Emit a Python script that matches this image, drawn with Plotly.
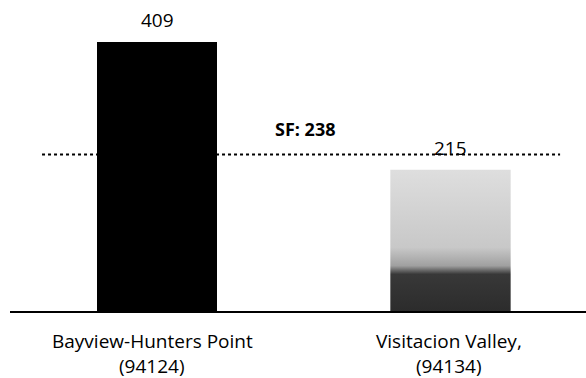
import plotly.graph_objects as go

# Neighbourhood values and city-wide reference
neighbourhoods = ["Bayview-Hunters Point", "Visitacion Valley,"]
zip_codes = ["(94124)", "(94134)"]
values = [409, 215]
sf_value = 238
sf_label = "SF: 238"

positions = [0, 1]
bar_width = 0.41
font_family = "Open Sans, Noto Sans, sans-serif"

fig = go.Figure()

# Solid black bar for the first neighbourhood
fig.add_trace(go.Bar(
    x=[positions[0]], y=[values[0]], width=bar_width,
    marker=dict(color="black", line=dict(width=0)),
    hoverinfo="skip", showlegend=False,
))

# Shaded bar for the second neighbourhood (dark at the base, light above)
x0 = positions[1] - bar_width / 2
x1 = positions[1] + bar_width / 2
fig.add_trace(go.Scatter(
    x=[x0, x1, x1, x0, x0],
    y=[0, 0, values[1], values[1], 0],
    mode="lines", line=dict(width=0), fill="toself",
    fillgradient=dict(
        type="vertical", start=0, stop=values[1],
        colorscale=[[0, "#2c2c2c"], [0.26, "#383838"], [0.32, "#a0a0a0"],
                    [0.45, "#c8c8c8"], [1, "#dedede"]],
    ),
    hoverinfo="skip", showlegend=False,
))

# City-wide dotted reference line
fig.add_shape(type="line", xref="paper", yref="y",
              x0=0.0556, x1=0.955, y0=sf_value, y1=sf_value,
              line=dict(color="black", width=2, dash="dot"), layer="below")

fig.add_annotation(x=0.504, y=sf_value, xref="x", yref="y", text=f"<b>{sf_label}</b>",
                   showarrow=False, yanchor="middle", yshift=26,
                   font=dict(family=font_family, size=18, color="black"))

# Value labels above each bar
for p, v in zip(positions, values):
    fig.add_annotation(x=p, y=v, text=str(v), showarrow=False, yanchor="bottom", yshift=7,
                       font=dict(family=font_family, size=19, color="black"))

# Two-line category labels under the baseline
for p, name, code, dx in zip(positions, neighbourhoods, zip_codes, [-5, -2]):
    fig.add_annotation(x=p, y=0, text=name, showarrow=False, yanchor="middle",
                       yshift=-30, xshift=dx,
                       font=dict(family=font_family, size=19, color="black"))
    fig.add_annotation(x=p, y=0, text=code, showarrow=False, yanchor="middle",
                       yshift=-55, xshift=dx,
                       font=dict(family=font_family, size=19, color="black"))

fig.update_layout(
    width=586, height=378,
    margin=dict(l=10, r=0, t=0, b=67),
    plot_bgcolor="white", paper_bgcolor="white",
    bargap=0,
    xaxis=dict(range=[-0.5009, 1.4617], showgrid=False, zeroline=False,
               showticklabels=False, ticks="", showline=True,
               linecolor="black", linewidth=2, fixedrange=True),
    yaxis=dict(range=[0, 473], showgrid=False, zeroline=False,
               showticklabels=False, ticks="", showline=False, fixedrange=True),
)

fig.write_html("out.html")
